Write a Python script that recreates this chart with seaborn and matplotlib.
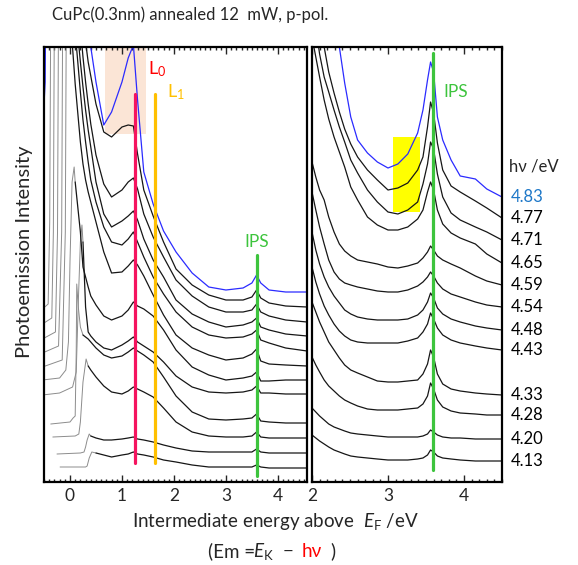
import numpy as np
import pandas as pd
import matplotlib
matplotlib.use("Agg")
import matplotlib.pyplot as plt
from matplotlib.ticker import MultipleLocator
from matplotlib.patches import Rectangle
import seaborn as sns

# photon energies, top spectrum first
hv = ["4.83", "4.77", "4.71", "4.65", "4.59", "4.54", "4.48", "4.43", "4.33", "4.28", "4.20", "4.13"]

L0_E = 1.25
L1_E = 1.63
IPS_E = 3.59

# ---- left panel: black part of each spectrum on a shared energy grid (offset intensities)
left_E = [0.0, 0.10, 0.20, 0.25, 0.30, 0.35, 0.40, 0.50, 0.65, 0.80, 1.00, 1.12, 1.22, 1.30,
          1.42, 1.60, 1.80, 2.04, 2.35, 2.67, 3.00, 3.33, 3.50, 3.59, 3.67, 3.83, 4.15, 4.56]
nan = np.nan
left_483 = [530, 520, 510, 500, 490, 470, 435, 400, 357, 370, 400, 424, 437, 382, 310, 278, 251, 230, 209, 195, 192, 194, 199, 207, 199, 192, 190, 190]
left_477 = [540, 520, 490, 465, 440, 420, 406, 378, 350, 345, 355, 357, 356, 328, 292, 266, 240, 213, 197, 187, 182, 182, 185, 192, 184, 179, 176, 175]
left_471 = [530, 500, 455, 425, 400, 378, 358, 327, 298, 285, 292, 300, 304, 293, 268, 245, 225, 202, 186, 175, 170, 170, 172, 178, 170, 166, 162, 160]
left_465 = [510, 475, 420, 395, 372, 352, 335, 300, 268, 255, 261, 266, 271, 262, 243, 222, 205, 182, 168, 160, 155, 157, 160, 164, 155, 152, 148, 146]
left_459 = [490, 450, 390, 362, 340, 320, 302, 280, 255, 240, 237, 243, 250, 240, 225, 205, 188, 170, 155, 147, 144, 145, 148, 152, 142, 139, 134, 131]
left_454 = [470, 398, 340, 318, 302, 290, 280, 260, 230, 209, 210, 216, 222, 217, 206, 187, 167, 147, 134, 127, 122, 124, 128, 133, 121, 118, 117, 116]
left_448 = [nan, 300, 250, 215, 205, 195, 186, 177, 166, 162, 166, 172, 180, 176, 173, 166, 152, 132, 115, 107, 102, 104, 106, 110, 101, 101, 102, 102]
left_443 = [nan, nan, nan, 240, 175, 150, 146, 140, 134, 132, 137, 141, 145, 140, 136, 130, 120, 106, 95, 90, 89, 90, 92, 96, 89, 89, 88, 88]
left_433 = [nan, nan, nan, 147, 145, 143, 140, 134, 127, 124, 126, 130, 134, 131, 127, 120, 105, 86, 70, 63, 62, 63, 64, 68, 61, 60, 59, 59]
left_428 = [nan, nan, nan, nan, nan, 116, 112, 105, 96, 90, 88, 91, 95, 93, 90, 85, 74, 60, 50, 46, 45, 45, 46, 50, 45, 44, 44, 44]
left_420 = [nan, nan, nan, nan, nan, nan, 46, 44, 42, 42, 43, 44, 45, 43, 42, 40, 37, 34, 31, 30, 30, 30, 30, 33, 30, 29, 29, 29]
left_413 = [nan, nan, nan, nan, nan, nan, nan, 29, 27, 25, 27, 28, 30, 28, 27, 25, 22, 20, 17, 15, 15, 15, 15, 17, 15, 14, 14, 14]

# low-energy cutoff edges (thin grey)
head_E_483 = [-0.53, -0.475, -0.465]
head_I_483 = [345, 400, 480]
head_E_477 = [-0.53, -0.42, -0.39, -0.37]
head_I_477 = [173, 178, 260, 480]
head_E_471 = [-0.53, -0.35, -0.32, -0.30]
head_I_471 = [158, 164, 250, 480]
head_E_465 = [-0.53, -0.28, -0.24, -0.22]
head_I_465 = [143, 150, 250, 480]
head_E_459 = [-0.53, -0.22, -0.16, -0.14]
head_I_459 = [129, 136, 250, 480]
head_E_454 = [-0.53, -0.15, -0.09, -0.07]
head_I_454 = [115, 122, 250, 480]
head_E_448 = [-0.53, -0.20, -0.08, -0.03, 0.0, 0.04, 0.08, 0.10]
head_I_448 = [102, 104, 112, 140, 220, 300, 315, 300]
head_E_443 = [-0.53, -0.20, 0.05, 0.12, 0.16, 0.20, 0.23, 0.25]
head_I_443 = [87, 89, 95, 110, 180, 240, 257, 240]
head_E_433 = [-0.37, 0.0, 0.06, 0.10, 0.12, 0.13, 0.16, 0.20, 0.25]
head_I_433 = [58, 60, 64, 66, 130, 198, 175, 155, 147]
head_E_428 = [-0.33, 0.10, 0.17, 0.20, 0.25, 0.31, 0.35]
head_I_428 = [45, 46, 48, 60, 100, 123, 116]
head_E_420 = [-0.25, 0.20, 0.27, 0.30, 0.33, 0.37, 0.40]
head_I_420 = [28, 29, 30, 35, 42, 48, 46]
head_E_413 = [-0.19, 0.30, 0.33, 0.37, 0.42, 0.50]
head_I_413 = [15, 15, 16, 24, 30, 29]

# ---- right panel: zoom on the IPS region
right_E = [2.00, 2.05, 2.10, 2.16, 2.22, 2.29, 2.36, 2.43, 2.51, 2.60, 2.73, 2.86, 3.00, 3.13,
           3.26, 3.39, 3.46, 3.52, 3.56, 3.60, 3.65, 3.72, 3.83, 3.95, 4.15, 4.30, 4.50]
right_483 = [560, 540, 520, 500, 480, 460, 435, 399, 365, 342, 329, 320, 314, 318, 328, 349, 372, 402, 420, 410, 365, 342, 322, 306, 303, 293, 285]
right_477 = [520, 490, 460, 435, 410, 389, 370, 353, 338, 325, 312, 302, 292, 294, 299, 312, 325, 355, 380, 369, 339, 312, 296, 290, 281, 274, 264]
right_471 = [490, 455, 428, 405, 390, 372, 355, 340, 322, 309, 292, 280, 270, 268, 272, 280, 298, 318, 340, 333, 308, 285, 269, 262, 255, 250, 242]
right_465 = [445, 425, 405, 382, 363, 345, 330, 315, 295, 282, 265, 257, 252, 252, 255, 263, 272, 290, 300, 292, 272, 258, 249, 244, 238, 228, 219]
right_459 = [320, 305, 292, 282, 265, 250, 238, 231, 226, 222, 220, 218, 215, 214, 216, 219, 224, 230, 236, 232, 226, 222, 218, 214, 206, 201, 197]
right_454 = [290, 272, 255, 238, 222, 210, 203, 199, 197, 195, 193, 191, 190, 190, 192, 196, 200, 205, 210, 206, 199, 193, 188, 185, 180, 177, 175]
right_448 = [250, 232, 218, 205, 195, 186, 179, 172, 168, 165, 163, 162, 162, 162, 163, 167, 172, 180, 189, 184, 174, 168, 163, 160, 156, 154, 152]
right_443 = [215, 200, 188, 176, 167, 158, 151, 146, 142, 140, 139, 139, 139, 139, 141, 144, 150, 158, 169, 163, 154, 147, 142, 139, 136, 134, 132]
right_433 = [180, 170, 160, 150, 140, 132, 124, 117, 112, 109, 105, 101, 100, 100, 101, 102, 108, 118, 132, 125, 108, 98, 93, 91, 89, 88, 87]
right_428 = [125, 117, 110, 102, 96, 91, 86, 82, 79, 76, 73, 72, 72, 72, 73, 74, 78, 86, 99, 93, 82, 75, 71, 69, 68, 67, 67]
right_420 = [74, 70, 66, 62, 58, 55, 53, 51, 49, 48, 47, 46, 45, 45, 45, 45, 46, 48, 52, 50, 47, 45, 44, 44, 43, 43, 43]
right_413 = [47, 44, 41, 38, 35, 32, 30, 28, 26, 25, 24, 23, 22, 22, 22, 23, 24, 27, 32, 30, 26, 24, 23, 22, 21, 21, 21]

left_curves = [left_483, left_477, left_471, left_465, left_459, left_454,
               left_448, left_443, left_433, left_428, left_420, left_413]
right_curves = [right_483, right_477, right_471, right_465, right_459, right_454,
                right_448, right_443, right_433, right_428, right_420, right_413]
head_E = [head_E_483, head_E_477, head_E_471, head_E_465, head_E_459, head_E_454,
          head_E_448, head_E_443, head_E_433, head_E_428, head_E_420, head_E_413]
head_I = [head_I_483, head_I_477, head_I_471, head_I_465, head_I_459, head_I_454,
          head_I_448, head_I_443, head_I_433, head_I_428, head_I_420, head_I_413]

left_df = pd.DataFrame({"E": np.tile(left_E, len(hv)),
                        "I": np.concatenate(left_curves).astype(float),
                        "hv": np.repeat(hv, len(left_E))}).dropna()
right_df = pd.DataFrame({"E": np.tile(right_E, len(hv)),
                         "I": np.concatenate(right_curves).astype(float),
                         "hv": np.repeat(hv, len(right_E))})
head_df = pd.DataFrame({"E": np.concatenate(head_E),
                        "I": np.concatenate(head_I).astype(float),
                        "hv": np.concatenate([[h] * len(e) for h, e in zip(hv, head_E)])})

sns.set_style("ticks")
plt.rcParams["font.family"] = ["Lato", "DejaVu Sans"]
plt.rcParams["mathtext.fontset"] = "custom"
plt.rcParams["mathtext.rm"] = "Lato"
plt.rcParams["mathtext.it"] = "Lato:italic"

BLUE = "#2B2BFF"
pal = {h: (BLUE if h == "4.83" else "#161616") for h in hv}
pal_head = {h: (BLUE if h == "4.83" else "#8C8C8C") for h in hv}
GREEN = "#3DC43D"
W, H = 578, 565

fig = plt.figure(figsize=(W / 100, H / 100), dpi=100)
axL = fig.add_axes([44 / W, 1 - 482 / H, 263 / W, 435 / H])
axR = fig.add_axes([312 / W, 1 - 482 / H, 190 / W, 435 / H])

axL.add_patch(Rectangle((0.67, 348), 0.79, 120, color="#FBE5D6", lw=0, zorder=0))
axR.add_patch(Rectangle((3.06, 270), 0.36, 75, color="#FFFF00", lw=0, zorder=0))

sns.lineplot(data=head_df, x="E", y="I", hue="hv", units="hv", estimator=None, sort=False,
             palette=pal_head, legend=False, lw=0.7, ax=axL)
sns.lineplot(data=left_df, x="E", y="I", hue="hv", units="hv", estimator=None, sort=False,
             palette=pal, legend=False, lw=0.9, ax=axL)
sns.lineplot(data=right_df, x="E", y="I", hue="hv", units="hv", estimator=None, sort=False,
             palette=pal, legend=False, lw=0.9, ax=axR)

for ax, lim in [(axL, (-0.5, 4.56)), (axR, (2.0, 4.5))]:
    ax.set_xlim(*lim)
    ax.set_ylim(0, 435)
    ax.set_xlabel("")
    ax.set_ylabel("")
    ax.set_yticks([])
    ax.xaxis.set_major_locator(MultipleLocator(1))
    ax.xaxis.set_minor_locator(MultipleLocator(0.1))
    ax.tick_params(axis="x", which="both", direction="in", top=True, bottom=True,
                   labelsize=12.5, width=1.0, pad=4)
    ax.tick_params(axis="x", which="major", length=5)
    ax.tick_params(axis="x", which="minor", length=2.5)
    for s in ax.spines.values():
        s.set_linewidth(1.6)
        s.set_color("black")
        s.set_visible(True)

axL.axvline(L0_E, ymin=19 / 435, ymax=388 / 435, color="#F5145F", lw=2.3, zorder=4)
axL.axvline(L1_E, ymin=19 / 435, ymax=388 / 435, color="#FFC000", lw=2.3, zorder=4)
axL.axvline(IPS_E, ymin=6 / 435, ymax=227 / 435, color=GREEN, lw=2.3, zorder=4)
axR.axvline(IPS_E, ymin=12 / 435, ymax=429 / 435, color=GREEN, lw=2.3, zorder=4)

axL.text(1.50, 408, r"L$_0$", color="#FF0000", fontsize=13, va="baseline")
axL.text(1.86, 385, r"L$_1$", color="#FFC000", fontsize=13, va="baseline")
axL.text(IPS_E, 240, "IPS", color=GREEN, fontsize=12.5, ha="center", va="center")
axR.text(3.89, 390, "IPS", color=GREEN, fontsize=12.5, ha="center", va="center")

axR.text(4.595, 316, "h\u03bd /eV", fontsize=12, va="center", clip_on=False)
for h, ys in zip(hv, right_curves):
    axR.text(4.62, ys[-1], h, fontsize=12, va="center", clip_on=False,
             color="#1E78C8" if h == "4.83" else "black")

fig.text(52 / W, 1 - 15 / H, "CuPc(0.3nm) annealed 12  mW, p-pol.", fontsize=12, va="center")
fig.text(25 / W, 1 - 252 / H, "Photoemission Intensity", fontsize=14.5, rotation=90,
         ha="center", va="center")
fig.text(275 / W, 1 - 522 / H, r"Intermediate energy above  $E_{\rm F}$ /eV",
         fontsize=13.5, ha="center", va="center")
yb = 1 - 557 / H
fig.text(208 / W, yb, "(Em =", fontsize=13.5, va="baseline")
fig.text(253 / W, yb, r"$E_{\rm K}$", fontsize=13.5, va="baseline")
fig.text(283 / W, yb, "\u2212", fontsize=13.5, va="baseline")
fig.text(302 / W, yb, "h\u03bd", fontsize=13.5, va="baseline", color="#FF0000")
fig.text(330 / W, yb, ")", fontsize=13.5, va="baseline")

fig.savefig("out.png", dpi=100)
